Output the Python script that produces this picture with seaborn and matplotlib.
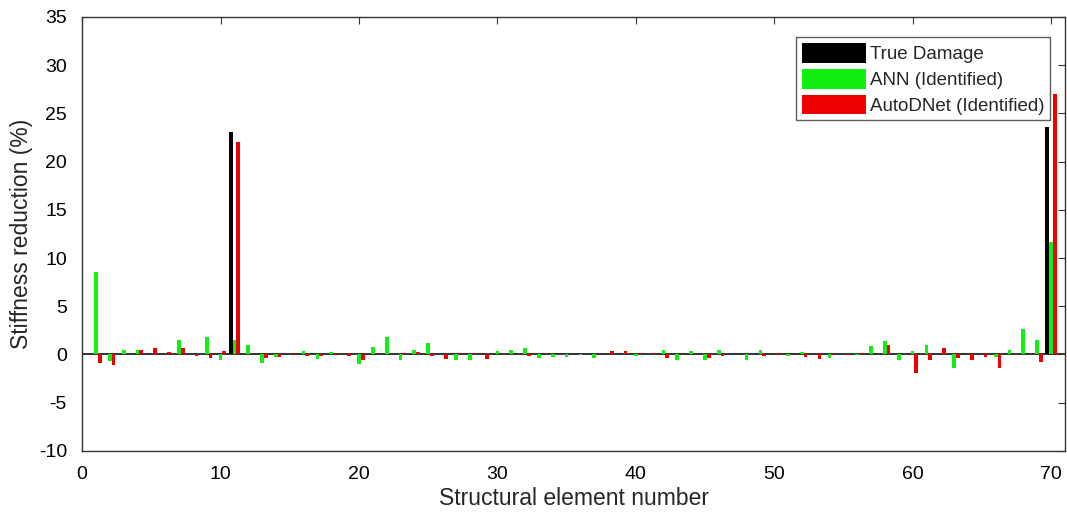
import numpy as np
import pandas as pd
import matplotlib
matplotlib.use("Agg")
import matplotlib.pyplot as plt
import seaborn as sns

# element numbers and stiffness reduction (%)
elements = list(range(1, 71))

true_damage = [0.0] * 70
true_damage[10] = 23.1
true_damage[69] = 23.6

ann = [8.6, -0.65, 0.5, 0.5, 0.1, 0.1, 1.55, 0.1, 1.85, -0.6,
       1.5, 1.0, -0.85, -0.3, 0.1, 0.4, -0.5, 0.25, 0.1, -0.95,
       0.8, 1.8, -0.55, 0.5, 1.15, 0.1, -0.6, -0.6, 0.1, 0.35,
       0.5, 0.7, -0.35, -0.3, -0.3, -0.1, -0.35, 0.1, 0.1, -0.2,
       0.1, 0.5, -0.6, 0.35, -0.6, 0.5, 0.1, -0.6, 0.5, 0.1,
       -0.2, 0.3, 0.1, -0.35, 0.1, -0.1, 0.85, 1.4, -0.6, 0.35,
       1.0, 0.1, -1.4, 0.1, 0.1, -0.3, 0.5, 2.6, 1.5, 11.7]

autodnet = [-0.9, -1.1, 0.1, 0.5, 0.7, 0.3, 0.7, -0.2, -0.4, 0.4,
            22.0, 0.1, -0.4, -0.3, -0.1, -0.15, -0.2, -0.1, -0.2, -0.6,
            0.2, 0.1, 0.15, 0.3, -0.2, -0.45, 0.2, 0.2, -0.45, 0.1,
            0.1, -0.2, 0.1, 0.1, 0.1, 0.1, 0.1, 0.35, 0.35, 0.15,
            0.2, -0.35, 0.1, 0.1, -0.35, -0.2, 0.1, 0.1, -0.2, 0.2,
            0.1, -0.3, -0.45, -0.1, -0.1, 0.2, 0.1, 0.95, 0.1, -1.9,
            -0.6, 0.65, -0.4, -0.6, -0.3, -1.4, 0.1, 0.1, -0.8, 27.0]

series_names = ["True Damage", "ANN (Identified)", "AutoDNet (Identified)"]
colors = ["#000000", "#11ee11", "#ee0000"]

df = pd.DataFrame({
    "element": elements * 3,
    "value": true_damage + ann + autodnet,
    "series": [series_names[0]] * 70 + [series_names[1]] * 70 + [series_names[2]] * 70,
})

sns.set_style("white")
plt.rcParams["font.family"] = ["Liberation Sans", "DejaVu Sans"]
plt.rcParams["axes.unicode_minus"] = False

fig = plt.figure(figsize=(10.67, 5.13), dpi=100)
ax = fig.add_axes([0.077, 0.121, 0.921, 0.846])

ax.axhline(0, color="#333333", lw=1.4, zorder=0)
sns.barplot(data=df, x="element", y="value", hue="series", native_scale=True,
            palette=colors, saturation=1, width=0.8, errorbar=None, linewidth=0,
            hue_order=series_names, ax=ax)

ax.set_xlim(0, 71)
ax.set_ylim(-10, 35)
ax.set_xticks(np.arange(0, 71, 10))
ax.set_yticks(np.arange(-10, 36, 5))
ax.tick_params(direction="in", top=True, right=True, labelsize=14, length=5,
               pad=11, colors="#333333", labelcolor="black")
for s in ax.spines.values():
    s.set_color("#333333")
    s.set_linewidth(1.0)

ax.set_xlabel("Structural element number", fontsize=16.5, labelpad=3)
ax.set_ylabel("Stiffness reduction (%)", fontsize=16.5, labelpad=4)

leg = ax.legend(loc="upper right", bbox_to_anchor=(0.9845, 0.953), fontsize=13.5,
                frameon=True, fancybox=False, edgecolor="#333333",
                handlelength=3.4, handleheight=1.25, handletextpad=0.2,
                borderpad=0.3, labelspacing=0.3, borderaxespad=0)
leg.get_frame().set_linewidth(1.0)

fig.savefig("out.png", dpi=100)
